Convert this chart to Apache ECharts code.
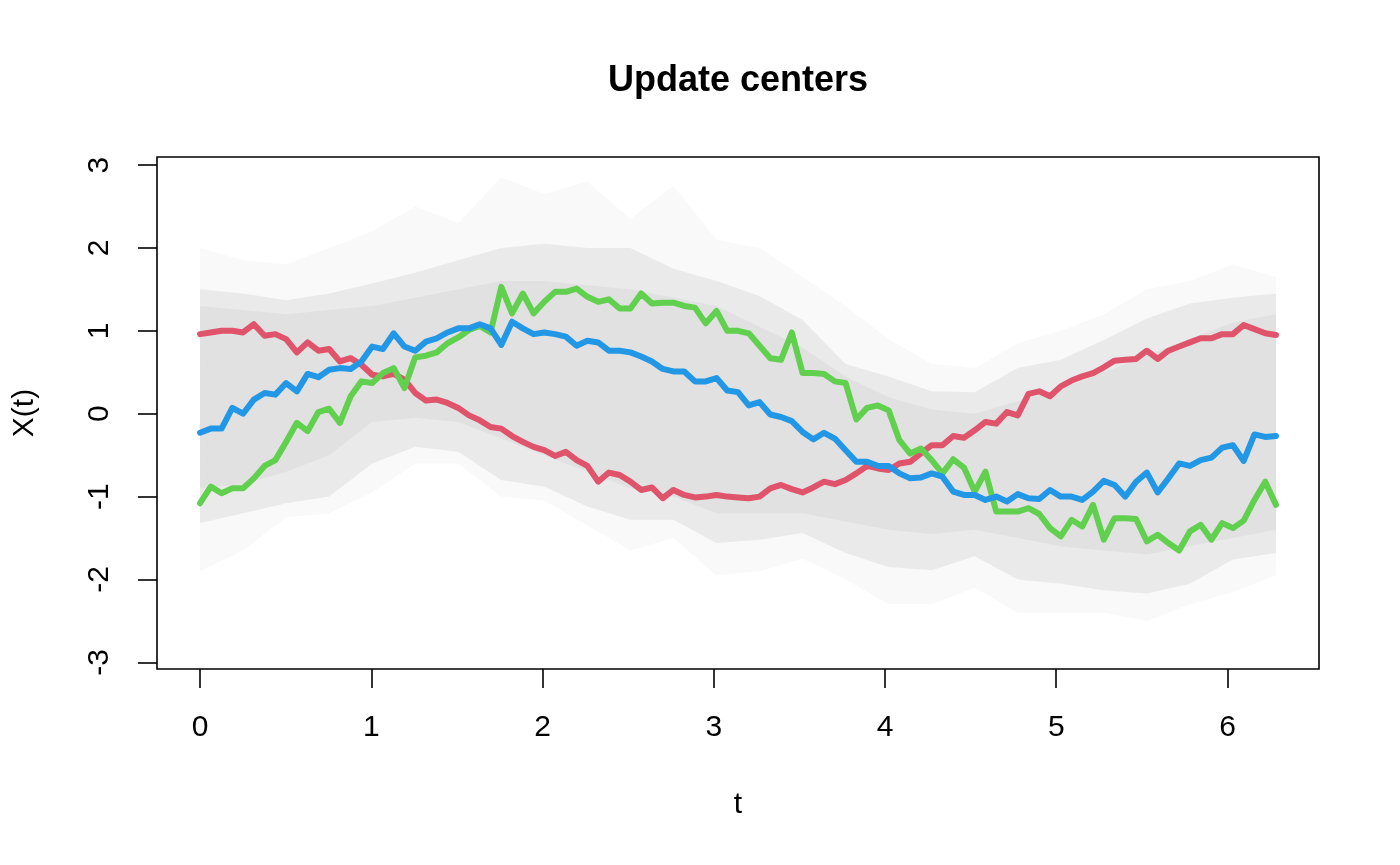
<!DOCTYPE html>
<html><head><meta charset="utf-8">
<script src="https://cdn.jsdelivr.net/npm/echarts@6/dist/echarts.min.js"></script>
<style>html,body{margin:0;padding:0;background:#fff}#c{width:1400px;height:865px}</style>
</head><body><div id="c"></div>
<script>
// t grid (101 points, 0 .. 2*pi)
const t = [0, 0.0628, 0.1257, 0.1885, 0.2513, 0.3142, 0.3770, 0.4398, 0.5027, 0.5655,
  0.6283, 0.6912, 0.7540, 0.8168, 0.8796, 0.9425, 1.0053, 1.0681, 1.1310, 1.1938,
  1.2566, 1.3195, 1.3823, 1.4451, 1.5080, 1.5708, 1.6336, 1.6965, 1.7593, 1.8221,
  1.8850, 1.9478, 2.0106, 2.0735, 2.1363, 2.1991, 2.2619, 2.3248, 2.3876, 2.4504,
  2.5133, 2.5761, 2.6389, 2.7018, 2.7646, 2.8274, 2.8903, 2.9531, 3.0159, 3.0788,
  3.1416, 3.2044, 3.2673, 3.3301, 3.3929, 3.4558, 3.5186, 3.5814, 3.6442, 3.7071,
  3.7699, 3.8327, 3.8956, 3.9584, 4.0212, 4.0841, 4.1469, 4.2097, 4.2726, 4.3354,
  4.3982, 4.4611, 4.5239, 4.5867, 4.6496, 4.7124, 4.7752, 4.8381, 4.9009, 4.9637,
  5.0265, 5.0894, 5.1522, 5.2150, 5.2779, 5.3407, 5.4035, 5.4664, 5.5292, 5.5920,
  5.6549, 5.7177, 5.7805, 5.8434, 5.9062, 5.9690, 6.0319, 6.0947, 6.1575, 6.2204, 6.2832];

const red = [0.96, 0.98, 1.00, 1.00, 0.98, 1.08, 0.94, 0.96, 0.90, 0.74,
  0.86, 0.76, 0.78, 0.63, 0.67, 0.59, 0.47, 0.45, 0.48, 0.41,
  0.25, 0.16, 0.17, 0.13, 0.07, -0.02, -0.08, -0.16, -0.18, -0.27,
  -0.34, -0.40, -0.44, -0.51, -0.46, -0.56, -0.63, -0.82, -0.71, -0.74,
  -0.82, -0.92, -0.89, -1.02, -0.92, -0.98, -1.01, -1.00, -0.98, -1.00,
  -1.01, -1.02, -1.00, -0.90, -0.86, -0.91, -0.95, -0.89, -0.82, -0.85,
  -0.80, -0.72, -0.63, -0.66, -0.68, -0.60, -0.58, -0.48, -0.38, -0.38,
  -0.27, -0.29, -0.20, -0.10, -0.12, 0.02, -0.02, 0.24, 0.27, 0.21,
  0.33, 0.40, 0.45, 0.49, 0.56, 0.64, 0.65, 0.66, 0.76, 0.66,
  0.76, 0.81, 0.86, 0.91, 0.91, 0.96, 0.96, 1.07, 1.02, 0.97, 0.95];

const green = [-1.08, -0.88, -0.96, -0.90, -0.90, -0.78, -0.63, -0.56, -0.34, -0.11,
  -0.21, 0.02, 0.06, -0.11, 0.21, 0.39, 0.37, 0.49, 0.55, 0.31,
  0.68, 0.70, 0.74, 0.85, 0.92, 1.01, 1.06, 0.98, 1.53, 1.21,
  1.45, 1.21, 1.35, 1.47, 1.47, 1.51, 1.41, 1.35, 1.38, 1.27,
  1.27, 1.45, 1.33, 1.34, 1.34, 1.30, 1.28, 1.09, 1.24, 1.00,
  1.00, 0.97, 0.82, 0.67, 0.65, 0.98, 0.49, 0.49, 0.48, 0.39,
  0.37, -0.07, 0.07, 0.10, 0.04, -0.32, -0.48, -0.42, -0.56, -0.72,
  -0.55, -0.65, -0.94, -0.70, -1.18, -1.18, -1.18, -1.14, -1.21, -1.38,
  -1.48, -1.28, -1.36, -1.10, -1.52, -1.26, -1.26, -1.27, -1.54, -1.46,
  -1.56, -1.65, -1.42, -1.34, -1.52, -1.32, -1.38, -1.29, -1.04, -0.82, -1.10];

const blue = [-0.23, -0.18, -0.18, 0.07, 0.00, 0.17, 0.25, 0.23, 0.37, 0.27,
  0.48, 0.44, 0.53, 0.55, 0.54, 0.63, 0.81, 0.78, 0.97, 0.81,
  0.76, 0.87, 0.91, 0.98, 1.03, 1.03, 1.08, 1.03, 0.83, 1.11,
  1.03, 0.96, 0.98, 0.96, 0.93, 0.82, 0.88, 0.86, 0.76, 0.76,
  0.74, 0.69, 0.63, 0.54, 0.51, 0.51, 0.39, 0.39, 0.43, 0.28,
  0.26, 0.10, 0.14, -0.01, -0.04, -0.09, -0.22, -0.31, -0.23, -0.30,
  -0.44, -0.58, -0.58, -0.63, -0.63, -0.72, -0.78, -0.77, -0.72, -0.76,
  -0.94, -0.98, -0.98, -1.04, -1.00, -1.06, -0.97, -1.02, -1.03, -0.92,
  -1.00, -1.00, -1.04, -0.94, -0.81, -0.86, -1.00, -0.82, -0.71, -0.95,
  -0.78, -0.60, -0.63, -0.56, -0.53, -0.41, -0.38, -0.57, -0.25, -0.28, -0.27];

// grey cloud of observed curves, read as envelopes at every 4th grid point
const bandT = [0, 0.2513, 0.5027, 0.7540, 1.0053, 1.2566, 1.5080, 1.7593, 2.0106, 2.2619,
  2.5133, 2.7646, 3.0159, 3.2673, 3.5186, 3.7699, 4.0212, 4.2726, 4.5239, 4.7752,
  5.0265, 5.2779, 5.5292, 5.7805, 6.0319, 6.2832];
const outerUpper = [2.0, 1.85, 1.8, 2.0, 2.2, 2.5, 2.3, 2.85, 2.65, 2.8, 2.35, 2.75, 2.1, 2.0, 1.65, 1.3, 0.9, 0.6, 0.55, 0.85, 1.0, 1.2, 1.5, 1.6, 1.8, 1.65];
const outerLower = [-1.9, -1.65, -1.25, -1.2, -0.95, -0.6, -0.6, -1.0, -1.05, -1.35, -1.65, -1.5, -1.95, -1.9, -1.75, -2.0, -2.3, -2.3, -2.1, -2.4, -2.4, -2.4, -2.5, -2.3, -2.15, -1.95];
const midUpper = [1.5, 1.45, 1.37, 1.45, 1.57, 1.7, 1.85, 2.0, 2.05, 2.0, 2.0, 1.75, 1.6, 1.42, 1.13, 0.6, 0.45, 0.27, 0.26, 0.55, 0.65, 0.89, 1.15, 1.33, 1.4, 1.45];
const midLower = [-1.32, -1.2, -1.08, -1.0, -0.6, -0.4, -0.46, -0.8, -0.88, -1.12, -1.28, -1.28, -1.56, -1.52, -1.44, -1.68, -1.85, -1.89, -1.72, -2.0, -2.05, -2.13, -2.17, -2.05, -1.76, -1.68];
const coreUpper = [1.3, 1.25, 1.2, 1.25, 1.3, 1.4, 1.5, 1.6, 1.6, 1.55, 1.5, 1.4, 1.3, 1.05, 0.8, 0.45, 0.2, 0.05, 0.0, 0.15, 0.3, 0.5, 0.7, 0.9, 1.1, 1.2];
const coreLower = [-0.9, -0.85, -0.7, -0.5, -0.1, -0.05, -0.1, -0.3, -0.5, -0.7, -0.9, -1.0, -1.2, -1.2, -1.2, -1.3, -1.4, -1.45, -1.4, -1.5, -1.6, -1.65, -1.7, -1.6, -1.5, -1.4];

const xTicks = [0, 1, 2, 3, 4, 5, 6];
const yTicks = [-3, -2, -1, 0, 1, 2, 3];

const FONT = '"Liberation Sans", Arial, Helvetica, sans-serif';
const pairs = (xs, ys) => xs.map((x, i) => [x, ys[i]]);

function band(upper, lower, color) {
  return {
    type: 'custom', silent: true, z: 1, clip: true,
    data: [[bandT[0], upper[0]]],
    renderItem: function (params, api) {
      const pts = [];
      for (let i = 0; i < bandT.length; i++) pts.push(api.coord([bandT[i], upper[i]]));
      for (let i = bandT.length - 1; i >= 0; i--) pts.push(api.coord([bandT[i], lower[i]]));
      return { type: 'polygon', shape: { points: pts }, style: { fill: color } };
    }
  };
}
function centerLine(vals, color, z) {
  return {
    type: 'line', data: pairs(t, vals), showSymbol: false, symbol: 'none', z: z,
    lineStyle: { color: color, width: 6, cap: 'round', join: 'round' },
    silent: true
  };
}

const chart = echarts.init(document.getElementById('c'), null, { renderer: 'canvas' });
chart.setOption({
  animation: false,
  backgroundColor: '#ffffff',
  grid: { left: 157, right: 81, top: 157, bottom: 196, show: true, borderColor: '#000', borderWidth: 1.6, backgroundColor: 'transparent' },
  xAxis: {
    type: 'value', min: -0.2513, max: 6.5345,
    axisLine: { show: false, onZero: false },
    splitLine: { show: false },
    axisTick: { show: true, customValues: xTicks, length: 19, lineStyle: { color: '#000', width: 1.6 } },
    axisLabel: { customValues: xTicks, margin: 44, fontSize: 30, color: '#000', fontFamily: FONT }
  },
  yAxis: {
    type: 'value', min: -3.08, max: 3.097,
    axisLine: { show: false, onZero: false },
    splitLine: { show: false },
    axisTick: { show: true, customValues: yTicks, length: 19, lineStyle: { color: '#000', width: 1.6 } },
    axisLabel: { customValues: yTicks, margin: 42, rotate: 90, fontSize: 30, color: '#000', fontFamily: FONT }
  },
  graphic: [
    { type: 'text', x: 738, y: 81, style: { text: 'Update centers', font: 'bold 36px ' + FONT, fill: '#000', align: 'center', verticalAlign: 'middle' } },
    { type: 'text', x: 738, y: 805, style: { text: 't', font: '30px ' + FONT, fill: '#000', align: 'center', verticalAlign: 'middle' } },
    { type: 'text', x: 25, y: 413, rotation: Math.PI / 2, style: { text: 'X(t)', font: '30px ' + FONT, fill: '#000', align: 'center', verticalAlign: 'middle' } }
  ],
  series: [
    band(outerUpper, outerLower, 'rgba(190,190,190,0.09)'),
    band(midUpper, midLower, 'rgba(190,190,190,0.24)'),
    band(coreUpper, coreLower, 'rgba(190,190,190,0.18)'),
    centerLine(red, '#DF536B', 3),
    centerLine(green, '#61D04F', 4),
    centerLine(blue, '#2297E6', 5)
  ]
});
</script>
</body></html>
